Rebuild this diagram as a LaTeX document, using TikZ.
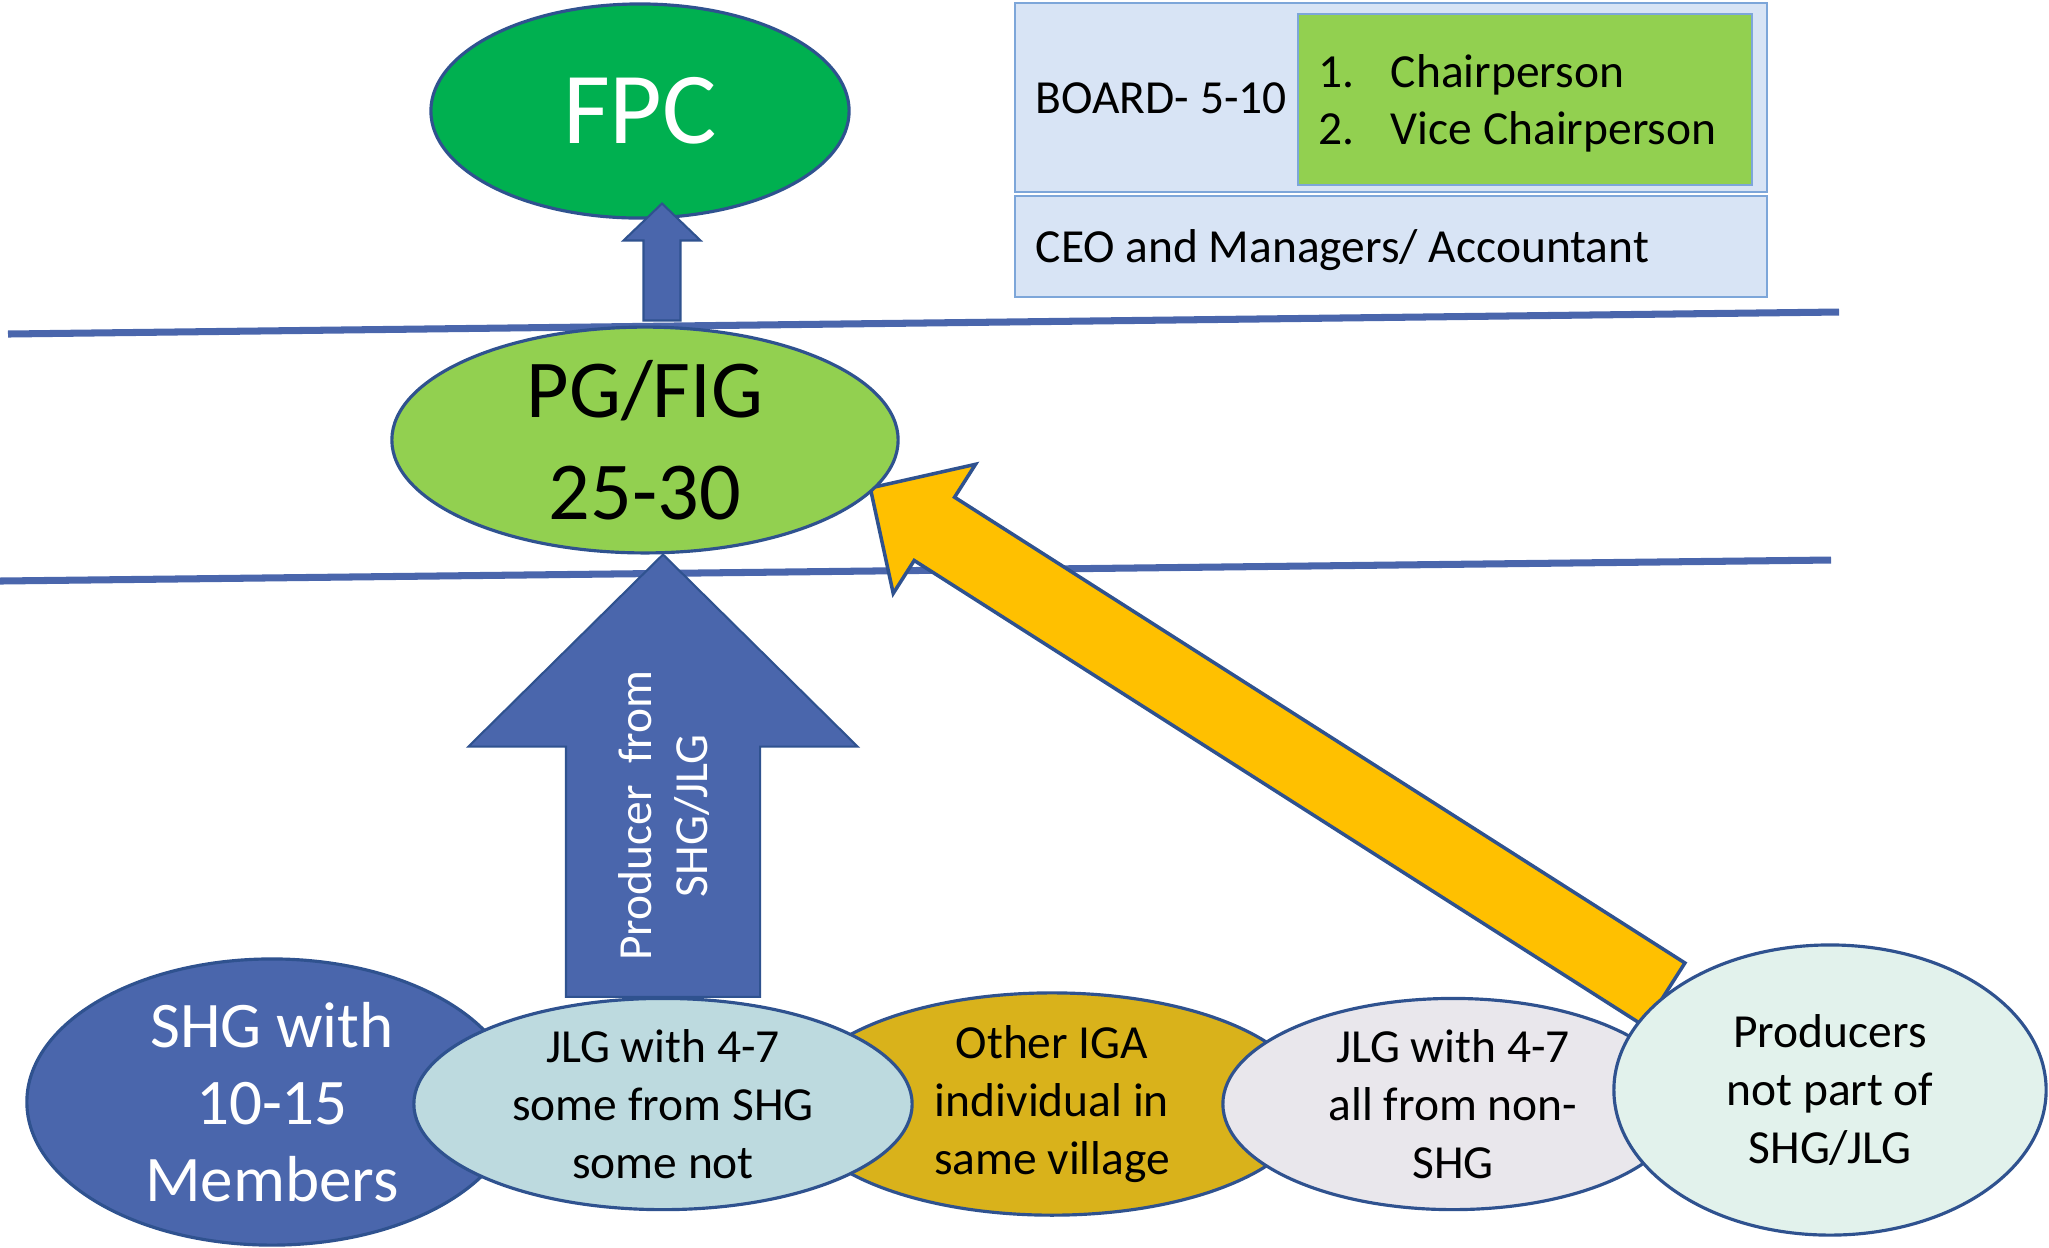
\documentclass[tikz,border=0pt]{standalone}
\usepackage{fontspec}
\setmainfont{Carlito}
\usetikzlibrary{backgrounds,calc,shapes.geometric}
\definecolor{lineblue}{HTML}{4A66AC}
\definecolor{edgeblue}{HTML}{2F528F}
\definecolor{fpcgreen}{HTML}{00B050}
\definecolor{lightgreen}{HTML}{92D050}
\definecolor{boardfill}{HTML}{D8E4F5}
\definecolor{boardedge}{HTML}{7DA6D9}
\definecolor{jlgafill}{HTML}{BDDADF}
\definecolor{igafill}{HTML}{D9B21B}
\definecolor{jlgbfill}{HTML}{E9E7EC}
\definecolor{prodfill}{HTML}{E2F2EC}
\definecolor{arrowyellow}{HTML}{FFC000}
% Block arrow: style, tail, tip, half shaft, half head, head length.
\newcommand{\blockarrow}[6]{%
	\coordinate (hb) at ($(#3)!#6!(#2)$);
	\draw[#1] ($(#2)!#4!90:(#3)$) -- ($(hb)!#4!-90:(#2)$) -- ($(hb)!#5!-90:(#2)$) -- (#3)
		-- ($(hb)!#5!90:(#2)$) -- ($(hb)!#4!90:(#2)$) -- ($(#2)!#4!-90:(#3)$) -- cycle;
}

\begin{document}
\begin{tikzpicture}[x=0.01cm, y=-0.01cm]
	% `group' is used for the ellipses on the bottom row.
	% `board' is used for the boxes on the top right.
	\tikzstyle{group} = [ellipse,draw=edgeblue,line width=0.9pt,inner sep=0pt,align=center,font=\fontsize{13.5}{16.5}\selectfont]
	\tikzstyle{board} = [rectangle,draw=boardedge,line width=0.6pt,fill=boardfill,inner sep=0pt]
	\tikzstyle{boardtext} = [anchor=base west,inner sep=0pt,font=\fontsize{13.5}{16.5}\selectfont]
	\tikzstyle{bluearrow} = [fill=lineblue,draw=edgeblue,line width=0.6pt]
	\tikzstyle{yellowarrow} = [fill=arrowyellow,draw=edgeblue,line width=1pt]
	\tikzstyle{level} = [draw=lineblue,line width=2pt]
	%
	\useasboundingbox (0,0) rectangle (2049,1247);
	% Board and staff boxes.
	\node[board,minimum width=7.52cm,minimum height=1.89cm] (board) at (1391,97.5) {};
	\node[board,fill=lightgreen,minimum width=4.54cm,minimum height=1.71cm] (chairs) at (1525,99.5) {};
	\node[board,minimum width=7.52cm,minimum height=1.01cm] (staff) at (1391,246.5) {};
	\node[boardtext] (boardlbl) at (1035,113) {BOARD- 5-10};
	\node[boardtext] (chair) at (1318,87) {\makebox[20.5pt][l]{1.}Chairperson};
	\node[boardtext] (vicechair) at (1318,144) {\makebox[20.5pt][l]{2.}Vice Chairperson};
	\node[boardtext] (stafflbl) at (1035,262) {CEO and Managers/ Accountant};
	% Top two levels.
	\node[ellipse,draw=edgeblue,line width=0.9pt,fill=fpcgreen,inner sep=0pt,minimum width=4.18cm,minimum height=2.14cm,text=white,font=\fontsize{29}{35}\selectfont] (fpc) at (640,111) {FPC};
	\node[ellipse,draw=edgeblue,line width=0.9pt,fill=lightgreen,inner sep=0pt,minimum width=5.06cm,minimum height=2.12cm,align=center,font=\fontsize{23.4}{29}\selectfont] (pgfig) at (645,440) {PG/FIG\\25-30};
	\coordinate (uptail) at ($(pgfig.north)+(17,-5)$);
	\coordinate (uptip) at ($(uptail)+(0,-117)$);
	\blockarrow{bluearrow}{uptail}{uptip}{0.185cm}{0.385cm}{0.37cm}
	% Bottom row.
	\node[group,fill=lineblue,minimum width=4.9cm,minimum height=2.86cm,text=white,font=\fontsize{18.5}{21.9}\selectfont] (shg) at (272,1102) {SHG with\\10-15\\Members};
	\node[group,fill=igafill,minimum width=5.16cm,minimum height=2.02cm] (iga) at (1052,1104) {Other IGA\\individual in\\same village};
	\node[group,fill=jlgafill,minimum width=4.98cm,minimum height=2.02cm] (jlga) at (663,1104) {JLG with 4-7\\some from SHG\\some not};
	\node[group,fill=jlgbfill,minimum width=4.6cm,minimum height=2.02cm] (jlgb) at (1453,1104) {JLG with 4-7\\all from non-\\SHG};
	\node[group,fill=prodfill,minimum width=4.32cm,minimum height=2.9cm] (prod) at (1830,1090) {Producers\\not part of\\SHG/JLG};
	\node[rotate=90,text=white,align=center,inner sep=0pt,font=\fontsize{13.5}{16.2}\selectfont] (via) at ($(jlga.north)+(1,-181)$) {Producer\ \ from\\SHG/JLG};
	\coordinate (bigtip) at (jlga.north |- pgfig.south);
	\coordinate (sidetip) at ($(pgfig.-12)+(-5,-1)$);
	\begin{pgfonlayer}{background}
		% Draw level lines.
		\draw[level] (8,334) -- (1839,312);
		\draw[level] (0,581) -- (1831,560);
		% Draw the two big arrows.
		\blockarrow{bluearrow}{jlga.north}{bigtip}{0.97cm}{1.945cm}{1.92cm}
		\blockarrow{yellowarrow}{prod.150}{sidetip}{0.375cm}{0.765cm}{0.76cm}
	\end{pgfonlayer}
%
\end{tikzpicture}
\end{document}
